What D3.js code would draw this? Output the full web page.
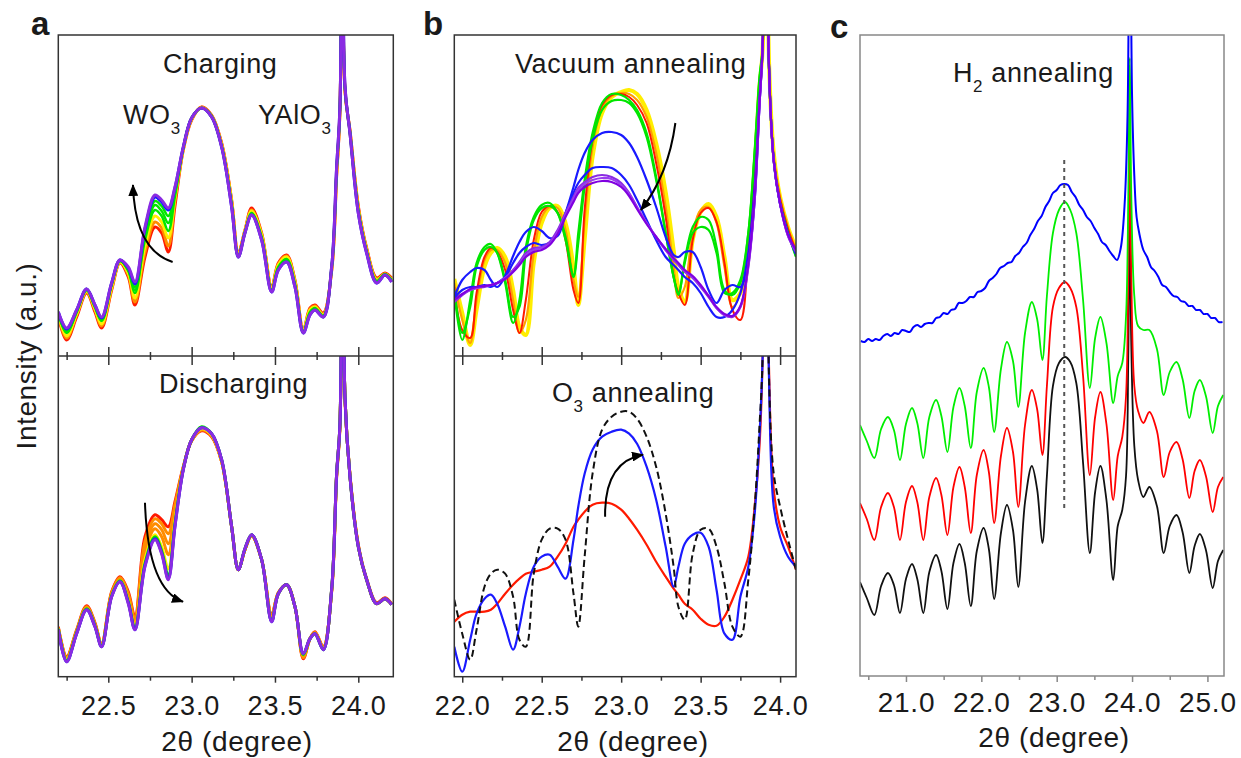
<!DOCTYPE html>
<html><head><meta charset="utf-8">
<script src="https://cdn.jsdelivr.net/npm/d3@7"></script>
<style>
body{margin:0;background:#fff}
svg text{font-family:"Liberation Sans",Arial,sans-serif;fill:#1a1a1a}
</style>
</head><body>
<script>
// ---------------- DATA ----------------
// Panel a (charging / discharging), 2theta grid
const thetaA = [22.20,22.25,22.31,22.37,22.42,22.46,22.52,22.57,22.62,22.66,
  22.72,22.78,22.82,22.86,22.90,22.95,23.00,23.06,23.12,23.18,
  23.24,23.28,23.32,23.36,23.42,23.48,23.52,23.57,23.62,23.67,
  23.71,23.74,23.79,23.84,23.87,23.89,23.905,23.92,23.95,24.00,
  24.05,24.11,24.16,24.20];
const chgRed    = [40,16,39,63,44,28,66,93,79,51, 99,129,123,104,150,206,236,249,241,213, 156,103,126,148,123,69,93,101,76,26, 48,51,43,85,180,245,700,265,226,150, 108,78,83,78];
const chgOrange = [41,18,41,64,46,30,67,94,81,54, 104,134,128,110,155,207,237,249,240,212, 155,102,125,146,122,68,92,100,75,25, 47,50,42,86,182,246,700,266,225,148, 107,77,82,77];
const chgYellow = [42,20,42,65,47,32,69,94,83,58, 110,140,134,118,158,207,237,248,240,211, 154,101,125,145,121,67,91,99,74,25, 46,49,41,87,184,247,700,267,224,147, 106,76,82,76];
const chgGreen1 = [43,23,44,66,49,35,71,95,85,63, 116,146,140,125,160,208,238,248,240,210, 152,100,124,143,119,66,89,97,72,24, 44,48,40,88,186,248,700,268,224,146, 105,75,82,76];
const chgGreen2 = [43,24,44,66,49,36,72,95,86,66, 120,151,145,133,163,208,238,248,239,210, 151,100,124,142,118,65,88,96,71,24, 43,47,40,88,187,249,700,268,224,145, 104,74,81,75];
const chgGreen3 = [44,25,45,67,50,37,72,96,87,69, 124,155,150,140,165,209,238,248,239,209, 150,99,123,142,117,65,87,95,70,23, 42,47,39,89,188,249,700,269,223,144, 104,74,81,75];
const chgBlue   = [44,27,46,67,51,38,73,96,88,72, 127,159,154,146,168,209,238,248,239,209, 149,99,123,141,116,64,86,94,69,23, 41,46,39,89,189,250,700,270,223,143, 103,73,81,74];
const chgViolet = [44,28,46,67,51,39,73,96,89,74, 129,161,156,148,169,209,238,248,239,209, 149,99,123,141,116,64,86,94,69,23, 41,46,39,89,189,250,700,270,223,143, 103,73,81,74];

const disRed     = [50,20,47,71,54,33,85,100,85,60, 140,162,157,150,175,210,236,246,240,215, 150,107,127,141,117,62,84,92,70,18, 38,45,30,85,200,250,700,278,202,132, 98,74,79,73];
const disOrange1 = [49,19,46,70,53,32,84,99,83,58, 135,158,153,143,172,209,236,247,241,215, 150,107,127,141,117,61,84,92,70,19, 38,44,29,85,201,251,700,279,201,131, 97,73,78,72];
const disOrange2 = [49,18,45,69,52,32,83,98,81,56, 130,153,147,133,167,209,236,247,241,215, 150,107,127,141,117,60,84,92,70,20, 38,44,29,86,202,252,700,279,201,131, 97,73,78,72];
const disOrange3 = [48,18,45,69,52,31,82,97,79,53, 124,148,140,122,162,208,237,248,242,216, 150,107,127,141,117,59,83,92,70,21, 38,44,28,86,202,252,700,279,201,131, 97,73,78,72];
const disYellow  = [48,17,44,68,51,31,81,96,76,50, 117,142,130,108,156,208,237,248,242,216, 150,107,128,142,117,57,83,92,70,22, 38,43,28,87,203,253,700,280,200,130, 97,73,78,72];
const disGreen   = [48,16,44,68,51,31,81,96,75,48, 113,140,126,101,153,208,237,250,243,217, 150,107,128,142,117,56,83,92,70,22, 38,43,27,87,203,253,700,280,200,130, 97,73,78,72];
const disBlue    = [47,15,43,67,50,30,80,95,74,47, 111,138,124,98,151,207,237,249,243,217, 150,107,128,142,117,55,83,92,70,23, 38,43,27,87,203,253,700,280,200,130, 97,73,78,72];
const disViolet  = [47,15,43,67,50,30,80,95,73,47, 110,137,123,97,150,207,237,249,243,217, 150,107,128,142,117,55,83,92,70,23, 38,43,27,87,203,253,700,280,200,130, 97,73,78,72];

// Panel b (vacuum / O3 annealing)
const thetaB = [21.95,22.00,22.05,22.09,22.14,22.18,22.22,22.27,22.32,22.36,
  22.40,22.45,22.50,22.55,22.60,22.65,22.70,22.73,22.77,22.82,
  22.88,22.94,23.00,23.05,23.10,23.16,23.22,23.28,23.33,23.36,
  23.40,23.45,23.50,23.55,23.60,23.65,23.70,23.75,23.80,23.84,
  23.87,23.89,23.91,23.93,23.96,24.00,24.05,24.10];
const vacYellow  = [77,43,11,46,89,103,108,99,66,29, 21,93,133,148,150,133,89,51,116,199, 243,259,264,266,262,246,213,164,106,69, 54,116,144,152,139,99,56,63,109,189, 269,306,700,296,203,159,129,108];
const vacOrange  = [73,36,13,56,96,106,106,93,56,23, 36,103,139,149,148,126,76,59,136,209, 248,260,263,262,256,239,203,149,89,58, 69,123,146,149,133,89,49,63,113,193, 273,306,700,293,199,158,128,106];
const vacRed     = [69,26,18,63,99,108,104,86,46,23, 56,116,144,150,144,116,66,53,146,216, 251,261,262,259,251,233,193,139,79,63, 51,116,143,148,134,93,46,36,103,183, 266,305,700,292,198,157,127,105];
const vacGreen2  = [66,23,49,89,106,109,103,76,39,49, 103,136,148,150,143,119,79,113,169,216, 246,255,256,253,243,219,176,123,79,63, 93,123,129,126,103,63,63,76,123,203, 276,308,700,289,196,153,123,100];
const vacGreen1  = [63,16,56,93,109,112,103,73,33,56, 109,139,151,153,143,116,81,123,176,223, 253,262,261,256,246,223,179,123,79,61, 96,129,139,136,109,66,61,73,123,206, 279,309,700,289,196,153,123,99];
const vacBlue1   = [59,76,84,88,86,76,69,80,100,114, 124,129,125,118,120,143,169,186,203,216, 223,224,221,213,199,176,149,119,101,99, 104,104,89,66,53,66,71,69,96,156, 250,310,700,290,195,152,122,102];
const vacBlue2   = [58,66,69,69,71,69,73,79,93,103, 109,113,111,113,123,143,163,173,181,188, 189,188,181,171,156,136,116,99,91,86, 79,73,63,49,39,39,46,63,103,169, 255,310,700,290,195,152,122,102];
const vacViolet1 = [54,61,66,68,69,71,73,78,86,94, 103,108,109,114,126,143,159,168,174,179, 181,179,173,163,149,133,119,106,96,91, 84,78,69,59,48,41,39,49,89,156, 250,310,700,290,195,152,120,104];
const vacViolet2 = [56,62,67,69,70,71,73,77,84,91, 99,104,106,111,122,139,154,163,169,173, 175,174,169,160,147,132,119,107,98,93, 86,80,71,60,49,42,40,50,92,160, 252,310,700,290,195,152,121,106];
const vacViolet3 = [55,62,66,68,70,71,73,78,85,92, 101,106,108,112,124,141,157,166,172,176, 178,177,171,162,148,133,119,106,97,92, 85,79,70,60,48,41,40,49,90,158, 251,310,700,290,195,152,120,105];

const o3Red    = [55,62,65,65,65,67,73,83,92,98, 103,105,107,110,120,133,150,157,165,172, 174,173,167,158,147,132,115,100,88,82, 73,67,58,52,51,60,77,97,120,170, 230,320,700,310,187,150,130,107];
const o3Blue   = [30,5,37,63,78,82,73,50,27,50, 83,110,120,122,110,98,137,170,203,227, 240,245,247,243,233,210,177,130,90,110, 133,142,144,130,87,43,37,80,110,163, 240,320,700,300,170,140,120,110];
const o3Dashed = [77,43,17,47,90,103,107,103,80,37, 30,103,137,148,148,137,83,50,120,203, 247,260,265,265,258,240,210,163,110,70, 57,123,147,148,130,93,50,40,97,170, 250,320,700,300,203,170,137,107];

// Panel c (H2 annealing), offset curves
const thetaC = [20.39,20.48,20.58,20.67,20.76,20.84,20.92,21.00,21.08,21.15,
  21.23,21.31,21.40,21.47,21.55,21.63,21.71,21.78,21.86,21.94,
  22.03,22.10,22.17,22.26,22.34,22.42,22.49,22.58,22.67,22.74,
  22.81,22.87,22.95,23.03,23.11,23.18,23.26,23.35,23.44,23.51,
  23.58,23.66,23.75,23.81,23.87,23.92,23.95,23.97,23.99,24.03,
  24.08,24.15,24.23,24.33,24.42,24.50,24.59,24.67,24.76,24.83,
  24.90,24.98,25.07,25.14,25.21];
const h2Black = [94,78,61,90,103,91,63,97,112,97, 63,104,121,105,67,113,132,113,70,125, 148,127,77,143,171,146,89,174,210,187, 133,200,290,313,319,314,293,213,123,184, 210,176,96,150,166,200,320,459,330,230, 196,179,189,170,123,150,161,144,103,130, 142,126,88,115,126];
const h2Red   = [173,157,136,169,183,169,136,174,190,174, 136,179,198,181,141,189,209,189,143,201, 226,204,153,220,248,224,169,251,286,267, 221,290,369,388,394,388,369,300,201,259, 284,252,176,220,239,280,400,533,400,290, 265,253,264,245,199,224,234,217,178,205, 216,200,164,189,199];
const h2Green = [251,235,218,247,259,246,216,252,268,253, 218,259,276,260,224,269,288,270,228,284, 308,289,244,307,334,315,269,343,374,357, 316,380,443,466,474,466,443,376,288,338, 359,333,273,300,313,360,480,618,480,380, 350,346,346,327,281,304,314,297,258,285, 296,280,243,270,281];
const thetaCBlue = [20.40,20.45,20.50,20.55,20.60,20.65,20.70,20.75,20.80,20.85,
  20.90,20.95,21.00,21.05,21.10,21.15,21.20,21.25,21.30,21.35,
  21.40,21.45,21.50,21.55,21.60,21.65,21.70,21.75,21.80,21.85,
  21.90,21.95,22.00,22.05,22.10,22.15,22.20,22.25,22.30,22.35,
  22.40,22.45,22.50,22.55,22.60,22.65,22.70,22.75,22.80,22.85,
  22.90,22.95,23.00,23.05,23.10,23.15,23.20,23.25,23.30,23.35,
  23.40,23.45,23.50,23.55,23.60,23.65,23.70,23.75,23.80,23.85,
  23.90,23.94,23.97,24.00,24.03,24.06,24.10,24.15,24.20,24.25,
  24.30,24.35,24.40,24.45,24.50,24.55,24.60,24.65,24.70,24.75,
  24.80,24.85,24.90,24.95,25.00,25.05,25.10,25.15,25.20];
const h2Blue = [335,334,337,335,337,336,340,342,340,343,
  342,346,345,344,349,351,349,352,353,353,
  358,359,363,362,366,367,373,373,375,379,
  379,384,385,388,395,398,402,408,410,413,
  414,420,423,429,433,441,447,455,460,469,
  475,483,486,491,492,491,484,479,471,466,
  459,455,448,442,434,431,425,420,416,428,
  470,560,800,580,500,459,441,426,419,409,
  405,399,391,389,384,380,379,375,374,370,
  370,366,366,362,362,358,358,354,354];
const dashLineC = {theta: 23.1, from: 166, to: 516};

// ticks
const ticksA = [22.5, 23.0, 23.5, 24.0], minorA = [22.25, 22.75, 23.25, 23.75];
const ticksB = [22.0, 22.5, 23.0, 23.5, 24.0], minorB = [22.25, 22.75, 23.25, 23.75];
const ticksC = [21.0, 22.0, 23.0, 24.0, 25.0], minorC = [20.5, 21.5, 22.5, 23.5, 24.5];

// arrows [start, control, end] in (2theta, intensity)
const arrowCharging    = [[22.886, 94], [22.66, 106], [22.648, 171]];
const arrowDischarging = [[22.72, 174], [22.738, 87], [22.948, 75]];
const arrowVacuum      = [[23.341, 233], [23.297, 181], [23.124, 146]];
const arrowO3          = [[22.899, 160], [22.893, 215], [23.137, 222]];

// ---------------- LAYOUT ----------------
const L = {
  a: {left: 58.3, right: 393.3, dom: [22.2, 24.21]},
  b: {left: 454.3, right: 796, dom: [21.95, 24.10]},
  c: {left: 860, right: 1224, dom: [20.39, 25.22]},
  top: 35, mid: 356, bot: 676.7, cbot: 676
};
const C = {red:"#ff1a00", orange:"#ff8c00", yellow:"#ffee00", green:"#00e600", blue:"#1a1aff", violet:"#8a2be2"};

const svg = d3.select("body").append("svg").attr("width", 1241).attr("height", 758);
const defs = svg.append("defs");
defs.append("marker").attr("id","ah").attr("viewBox","0 0 12 10").attr("refX",11).attr("refY",5)
  .attr("markerWidth",6).attr("markerHeight",5).attr("orient","auto")
  .append("path").attr("d","M0,0 L12,5 L0,10 z").attr("fill","#000");

let clipN = 0;
function subplot(x, yDomain, yRange, series) {
  const y = d3.scaleLinear().domain(yDomain).range(yRange);
  const id = "clip" + (clipN++);
  const [x0, x1] = x.range();
  defs.append("clipPath").attr("id", id).append("rect")
    .attr("x", x0).attr("y", yRange[1]).attr("width", x1 - x0).attr("height", yRange[0] - yRange[1]);
  const g = svg.append("g").attr("clip-path", `url(#${id})`);
  const line = d3.line().x(d => x(d[0])).y(d => y(d[1])).curve(d3.curveCatmullRom.alpha(0.5));
  series.forEach(s => {
    g.append("path").datum(d3.zip(s.x, s.y)).attr("d", line)
      .attr("fill","none").attr("stroke", s.c).attr("stroke-width", s.w)
      .attr("stroke-linejoin","round").attr("stroke-dasharray", s.dash || null);
  });
  return y;
}
function arrow(x, y, pts) {
  const [s, c, e] = pts;
  svg.append("path")
    .attr("d", `M${x(s[0])},${y(s[1])} Q${x(c[0])},${y(c[1])} ${x(e[0])},${y(e[1])}`)
    .attr("fill","none").attr("stroke","#000").attr("stroke-width",2).attr("marker-end","url(#ah)");
}
function styleAxis(g, color, size) {
  g.select(".domain").remove();
  g.attr("font-family", null).attr("font-size", null);
  g.selectAll("line").attr("stroke", color).attr("stroke-width", 1.5);
  g.selectAll("text").style("font-size", size + "px").style("letter-spacing", "0.8px").attr("fill", "#1a1a1a");
}
function xAxes(x, ticks, minor, color, yBot, withMid, pad, size) {
  const b = svg.append("g").attr("transform", `translate(0,${yBot})`)
    .call(d3.axisBottom(x).tickValues(ticks).tickFormat(d3.format(".1f")).tickSize(6).tickPadding(pad));
  styleAxis(b, color, size);
  const bm = svg.append("g").attr("transform", `translate(0,${yBot})`)
    .call(d3.axisBottom(x).tickValues(minor).tickFormat("").tickSize(4));
  styleAxis(bm, color, size);
  if (withMid) {
    [[d3.axisBottom, ticks, 9], [d3.axisTop, ticks, 9], [d3.axisBottom, minor, 4], [d3.axisTop, minor, 4]].forEach(([ax, tv, ts]) => {
      const m = svg.append("g").attr("transform", `translate(0,${L.mid})`)
        .call(ax(x).tickValues(tv).tickFormat("").tickSize(ts));
      styleAxis(m, color, size);
    });
  }
}
function frame(x, yTop, yBot, color, mid) {
  const [x0, x1] = x.range();
  svg.append("rect").attr("x", x0).attr("y", yTop).attr("width", x1 - x0).attr("height", yBot - yTop)
    .attr("fill","none").attr("stroke", color).attr("stroke-width", 1.5);
  if (mid) svg.append("line").attr("x1", x0).attr("x2", x1).attr("y1", mid).attr("y2", mid)
    .attr("stroke", color).attr("stroke-width", 1.5);
}
function text(x, y, parts, size, opts = {}) {
  const t = svg.append("text").attr("x", x).attr("y", y).style("font-size", size + "px")
    .style("letter-spacing", (opts.ls ?? 0.6) + "px");
  if (opts.anchor) t.attr("text-anchor", opts.anchor);
  if (opts.weight) t.style("font-weight", opts.weight);
  if (opts.transform) t.attr("transform", opts.transform);
  parts.forEach(p => {
    if (p.sub) t.append("tspan").text(p.t).style("font-size", "17px").attr("dy", 10);
    else t.append("tspan").text(p.t).attr("dy", p.after ? -10 : 0);
  });
  return t;
}

// ---------------- PANEL A ----------------
const xa = d3.scaleLinear().domain(L.a.dom).range([L.a.left, L.a.right]);
const yaT = subplot(xa, [0, 321], [L.mid, L.top], [
  {x: thetaA, y: chgRed, c: C.red, w: 3},
  {x: thetaA, y: chgOrange, c: C.orange, w: 3},
  {x: thetaA, y: chgYellow, c: C.yellow, w: 3},
  {x: thetaA, y: chgGreen1, c: C.green, w: 2.5},
  {x: thetaA, y: chgGreen2, c: C.green, w: 2.5},
  {x: thetaA, y: chgGreen3, c: C.green, w: 2.5},
  {x: thetaA, y: chgBlue, c: C.blue, w: 3},
  {x: thetaA, y: chgViolet, c: C.violet, w: 3}
]);
const yaB = subplot(xa, [0, 320.7], [L.bot, L.mid], [
  {x: thetaA, y: disRed, c: C.red, w: 3},
  {x: thetaA, y: disOrange1, c: C.orange, w: 3},
  {x: thetaA, y: disOrange2, c: C.orange, w: 3},
  {x: thetaA, y: disOrange3, c: C.orange, w: 3},
  {x: thetaA, y: disYellow, c: C.yellow, w: 3},
  {x: thetaA, y: disGreen, c: C.green, w: 3},
  {x: thetaA, y: disBlue, c: C.blue, w: 3},
  {x: thetaA, y: disViolet, c: C.violet, w: 3}
]);
frame(xa, L.top, L.bot, "#333", L.mid);
xAxes(xa, ticksA, minorA, "#333", L.bot, true, 13, 27);
arrow(xa, yaT, arrowCharging);
arrow(xa, yaB, arrowDischarging);

// ---------------- PANEL B ----------------
const xb = d3.scaleLinear().domain(L.b.dom).range([L.b.left, L.b.right]);
const ybT = subplot(xb, [0, 321], [L.mid, L.top], [
  {x: thetaB, y: vacYellow, c: C.yellow, w: 4},
  {x: thetaB, y: vacOrange, c: "#ffa000", w: 2.2},
  {x: thetaB, y: vacRed, c: C.red, w: 2},
  {x: thetaB, y: vacGreen2, c: C.green, w: 2.2},
  {x: thetaB, y: vacGreen1, c: C.green, w: 2.2},
  {x: thetaB, y: vacBlue1, c: C.blue, w: 2.2},
  {x: thetaB, y: vacBlue2, c: C.blue, w: 2.2},
  {x: thetaB, y: vacViolet1, c: "#8a2be2", w: 2.2},
  {x: thetaB, y: vacViolet3, c: "#9b3cf0", w: 2.2},
  {x: thetaB, y: vacViolet2, c: "#8000e0", w: 2.2}
]);
const ybB = subplot(xb, [0, 320.7], [L.bot, L.mid], [
  {x: thetaB, y: o3Red, c: C.red, w: 2.2},
  {x: thetaB, y: o3Blue, c: C.blue, w: 2.2},
  {x: thetaB, y: o3Dashed, c: "#111", w: 2, dash: "7,4"}
]);
frame(xb, L.top, L.bot, "#333", L.mid);
xAxes(xb, ticksB, minorB, "#333", L.bot, true, 13, 27);
arrow(xb, ybT, arrowVacuum);
arrow(xb, ybB, arrowO3);

// ---------------- PANEL C ----------------
const xc = d3.scaleLinear().domain(L.c.dom).range([L.c.left, L.c.right]);
const yc = subplot(xc, [0, 641], [L.cbot, L.top], [
  {x: thetaC, y: h2Black, c: "#111", w: 1.8},
  {x: thetaC, y: h2Red, c: "#ff0000", w: 1.8},
  {x: thetaC, y: h2Green, c: "#00ee00", w: 1.8},
  {x: thetaCBlue, y: h2Blue, c: "#0000ff", w: 2}
]);
svg.append("line").attr("x1", xc(dashLineC.theta)).attr("x2", xc(dashLineC.theta))
  .attr("y1", yc(dashLineC.to)).attr("y2", yc(dashLineC.from))
  .attr("stroke","#555").attr("stroke-width",2).attr("stroke-dasharray","4,4");
frame(xc, L.top, L.cbot, "#888", null);
xAxes(xc, ticksC, minorC, "#888", L.cbot, false, 10, 28);

// ---------------- TEXT ----------------
text(31, 35, [{t:"a"}], 33, {weight:"bold", ls:0});
text(423, 35, [{t:"b"}], 33, {weight:"bold", ls:0});
text(830, 38, [{t:"c"}], 33, {weight:"bold", ls:0});
text(163, 73, [{t:"Charging"}], 27);
text(123, 124, [{t:"WO"},{t:"3", sub:true}], 27);
text(258, 124, [{t:"YAlO"},{t:"3", sub:true}], 27);
text(159, 393, [{t:"Discharging"}], 27);
text(515, 73, [{t:"Vacuum annealing"}], 27);
const o3 = text(552, 402, [{t:"O"},{t:"3", sub:true}], 27);
o3.append("tspan").text(" annealing").attr("dy", -10).style("font-size","27px");
const h2 = text(953, 82, [{t:"H"},{t:"2", sub:true}], 27);
h2.append("tspan").text(" annealing").attr("dy", -10).style("font-size","27px");
text(237, 751, [{t:"2θ (degree)"}], 28, {anchor:"middle"});
text(633, 751, [{t:"2θ (degree)"}], 28, {anchor:"middle"});
text(1054, 747, [{t:"2θ (degree)"}], 28, {anchor:"middle"});
text(0, 0, [{t:"Intensity (a.u.)"}], 28, {anchor:"middle", transform:"translate(36,356) rotate(-90)"});
</script>
</body></html>
